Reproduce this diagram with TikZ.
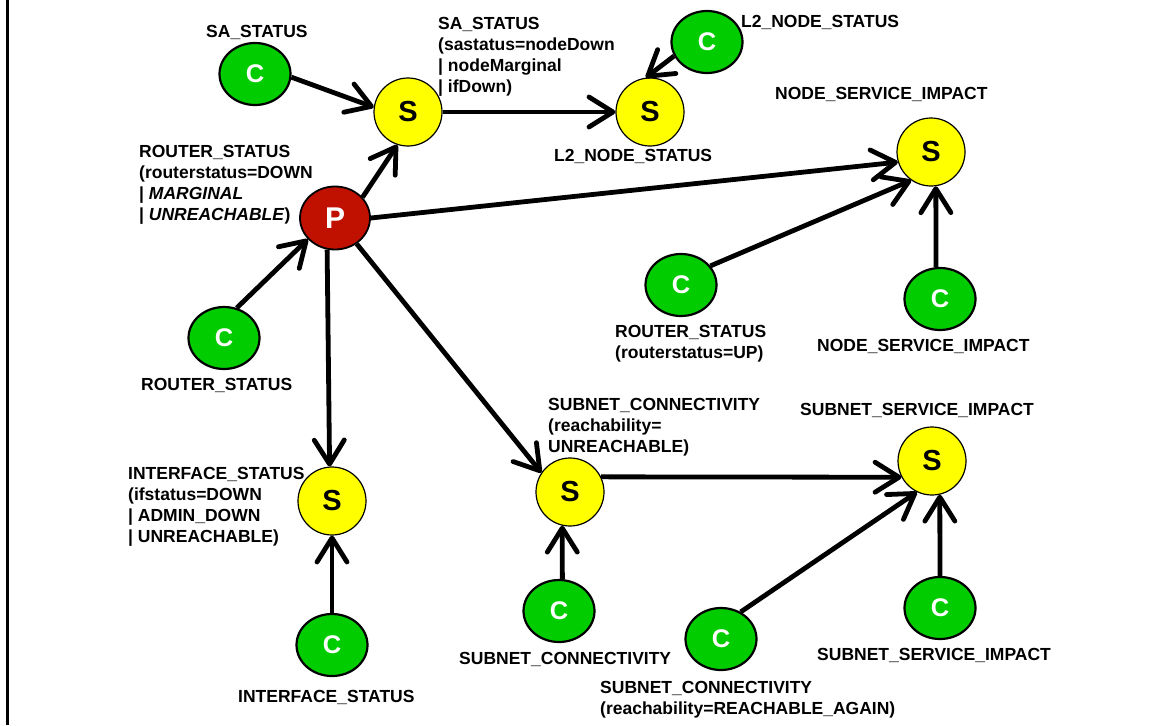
\documentclass[tikz,border=0pt]{standalone}
\usepackage{fontspec}
\setmainfont{Liberation Sans}
\usetikzlibrary{shapes.geometric,arrows.meta}

\definecolor{cgreen}{RGB}{0,204,0}
\definecolor{syellow}{RGB}{255,255,0}
\definecolor{pred}{RGB}{192,16,0}

\begin{document}
\begin{tikzpicture}[%
  x=1pt,y=-1pt,
  font=\bfseries\fontsize{17.5}{21}\selectfont,
  cnode/.style={ellipse,draw,line width=2.2pt,fill=cgreen,text=white,
    minimum width=71pt,minimum height=62pt,inner sep=0pt,
    font=\bfseries\fontsize{25.5}{26}\selectfont},
  snode/.style={circle,draw,line width=1.2pt,fill=syellow,
    minimum size=68pt,inner sep=0pt,
    font=\bfseries\fontsize{29}{29}\selectfont},
  pnode/.style={ellipse,draw,line width=1.8pt,fill=pred,text=white,
    minimum width=70pt,minimum height=63pt,inner sep=0pt,
    font=\bfseries\fontsize{30}{30}\selectfont},
  lbl/.style={anchor=north west,inner sep=0pt,align=left},
  flow/.style={line width=4.8pt,-{Straight Barb[length=24pt,width=30pt,round]}}]
  \useasboundingbox (0,0) rectangle (1150,725);
  \draw[line width=3pt] (7,0) -- (7,725);

  \node[cnode] (cSA) at (255,74) {C};
  \node[snode] (sSA) at (408,112) {S};
  \node[snode] (sL2) at (650,112) {S};
  \node[cnode] (cL2) at (707,42) {C};
  \node[snode] (sNSI) at (931,152) {S};
  \node[pnode] (P) at (335,218) {P};
  \node[cnode] (cRS) at (224,338) {C};
  \node[cnode] (cRUP) at (681,285) {C};
  \node[cnode] (cNSI) at (940,299) {C};
  \node[snode] (sIS) at (332,501) {S};
  \node[cnode] (cIS) at (332,645) {C};
  \node[snode] (sSC) at (570,492) {S};
  \node[cnode] (cSC) at (559,611) {C};
  \node[snode] (sSSI) at (932,461) {S};
  \node[cnode] (cRA) at (721,639) {C};
  \node[cnode] (cSSI) at (940,608) {C};

  \node[lbl] (tSA) at (206,25) {SA\_STATUS};
  \node[lbl] (tSAq) at (438,17) {SA\_STATUS\\(sastatus=nodeDown\\| nodeMarginal\\| ifDown)};
  \node[lbl] (tL2b) at (554,149) {L2\_NODE\_STATUS};
  \node[lbl] (tL2r) at (741,15) {L2\_NODE\_STATUS};
  \node[lbl] (tNSI) at (775,87) {NODE\_SERVICE\_IMPACT};
  \node[lbl] (tRSq) at (139,145) {ROUTER\_STATUS\\(routerstatus=DOWN\\| \textit{MARGINAL}\\| \textit{UNREACHABLE})};
  \node[lbl] (tRS) at (141,378) {ROUTER\_STATUS};
  \node[lbl] (tRUP) at (615,325) {ROUTER\_STATUS\\(routerstatus=UP)};
  \node[lbl] (tNSIb) at (817,339) {NODE\_SERVICE\_IMPACT};
  \node[lbl] (tISq) at (128,467) {INTERFACE\_STATUS\\(ifstatus=DOWN\\| ADMIN\_DOWN\\| UNREACHABLE)};
  \node[lbl] (tIS) at (238,690) {INTERFACE\_STATUS};
  \node[lbl] (tSCq) at (548,398) {SUBNET\_CONNECTIVITY\\(reachability=\\UNREACHABLE)};
  \node[lbl] (tSC) at (459,652) {SUBNET\_CONNECTIVITY};
  \node[lbl] (tRA) at (600,681) {SUBNET\_CONNECTIVITY\\(reachability=REACHABLE\_AGAIN)};
  \node[lbl] (tSSI) at (800,403) {SUBNET\_SERVICE\_IMPACT};
  \node[lbl] (tSSIb) at (817,648) {SUBNET\_SERVICE\_IMPACT};

  \draw[flow] (cSA.355) -- (sSA.172);
  \draw[flow] (P.37) -- (sSA.252);
  \draw[flow] (sSA) -- (sL2);
  \draw[flow] (cL2.203) -- (sL2.97);
  \draw[flow] (P.0) -- (sNSI.197);
  \draw[flow] (cRUP.33) -- (sNSI.235);
  \draw[flow] (cNSI.97) -- (sNSI.278);
  \draw[flow] (cRS.67) -- (P.218);
  \draw[flow] (P.256) -- (sIS.94);
  \draw[flow] (cIS) -- (sIS);
  \draw[flow] (P.310) -- (sSC.146);
  \draw[flow] (cSC.84) -- (sSC.257);
  \draw[flow] (sSC.26) -- (sSSI.208);
  \draw[flow] (cRA.54) -- (sSSI.244);
  \draw[flow] (cSSI.north) -- (sSSI.283);
\end{tikzpicture}
\end{document}
